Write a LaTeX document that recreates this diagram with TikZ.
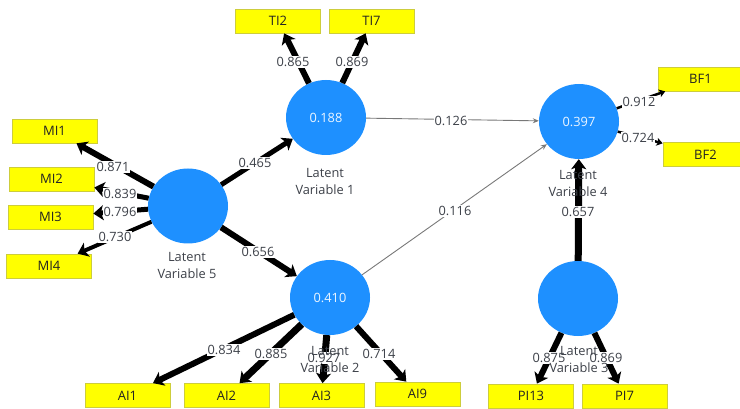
\documentclass[tikz,border=0pt]{standalone}
\usepackage{fontspec}
\setmainfont{Open Sans}
\usetikzlibrary{shapes.geometric,arrows.meta}
\definecolor{lvblue}{RGB}{30,144,255}
\definecolor{boxfill}{RGB}{255,255,0}
\definecolor{boxedge}{RGB}{205,205,60}
\definecolor{txtdark}{RGB}{35,35,35}
\definecolor{txtgray}{RGB}{60,64,72}
\definecolor{pathgray}{RGB}{120,120,120}
\tikzset{
  lv/.style={ellipse, fill=lvblue, minimum width=80pt, minimum height=75pt,
    inner sep=0pt, text=white!92!lvblue},
  ind/.style={rectangle, fill=boxfill, draw=boxedge, line width=0.7pt,
    minimum width=85pt, minimum height=24pt, inner sep=0pt, text=txtdark,
    font=\fontsize{13}{15}\selectfont},
  wt/.style={fill=white, inner sep=1pt, text=txtgray},
  lvname/.style={align=center, text=txtgray, inner sep=0pt},
  load/.style={draw=black, line width=#1,
    -{Stealth[length=10pt, width=15pt, inset=2.5pt]}},
  loadsmall/.style={draw=black, line width=2.5pt,
    -{Stealth[length=6pt, width=8pt, inset=1.5pt]}},
  inner/.style={draw=pathgray, line width=0.9pt,
    -{Stealth[length=6pt, width=5pt]}}
}
\begin{document}
\begin{tikzpicture}[x=1pt, y=-1pt, font=\fontsize{12.8}{17}\selectfont]
\useasboundingbox (0,0) rectangle (740,409);

% latent variables
\node[lv] (lv1) at (326,117.5) {0.188};
\node[lv] (lv2) at (330,297.5) {0.410};
\node[lv] (lv3) at (578,298.5) {};
\node[lv] (lv4) at (579,121.5) {0.397};
\node[lv] (lv5) at (188,206) {};

% indicators
\node[ind] (ti2) at (278,21) {TI2};
\node[ind] (ti7) at (371.5,21) {TI7};
\node[ind] (mi1) at (54.5,131) {MI1};
\node[ind] (mi2) at (51.5,179) {MI2};
\node[ind] (mi3) at (50.5,217) {MI3};
\node[ind] (mi4) at (49,266) {MI4};
\node[ind] (ai1) at (127.5,395.5) {AI1};
\node[ind] (ai2) at (226.5,395.5) {AI2};
\node[ind] (ai3) at (321.5,395.5) {AI3};
\node[ind] (ai9) at (417.5,394) {AI9};
\node[ind] (pi13) at (531,396) {PI13};
\node[ind] (pi7) at (624.5,396) {PI7};
\node[ind] (bf1) at (700.5,79) {BF1};
\node[ind] (bf2) at (705.5,154.5) {BF2};

% structural paths
\draw[inner] (lv1) -- (lv4);
\draw[inner] (lv2) -- (lv4);
\draw[load=5pt] (lv5) -- (lv1);
\draw[load=6pt] (lv5) -- (lv2);
\draw[load=7pt] (lv3) -- (lv4);

% outer loadings
\draw[load=6pt] (lv1) -- (ti2);
\draw[load=6pt] (lv1) -- (ti7);
\draw[load=6pt] (lv5) -- (mi1);
\draw[load=5pt] (lv5) -- (mi2);
\draw[load=5pt] (lv5) -- (mi3);
\draw[load=4pt] (lv5) -- (mi4);
\draw[load=6pt] (lv2) -- (ai1);
\draw[load=7pt] (lv2) -- (ai2);
\draw[load=7pt] (lv2) -- (ai3);
\draw[load=6pt] (lv2) -- (ai9);
\draw[load=6pt] (lv3) -- (pi13);
\draw[load=6pt] (lv3) -- (pi7);
\draw[loadsmall] (lv4) -- (bf1);
\draw[loadsmall] (lv4) -- (bf2);

% coefficients
\node[wt] (w126) at (451,121) {0.126};
\node[wt] (w116) at (455,211) {0.116};
\node[wt] (w465) at (255,163) {0.465};
\node[wt] (w656) at (258,252) {0.656};
\node[wt] (w657) at (578,212) {0.657};
\node[wt] (w865) at (293,62) {0.865};
\node[wt] (w869a) at (352,62) {0.869};
\node[wt] (w871) at (113,167) {0.871};
\node[wt] (w839) at (120,194) {0.839};
\node[wt] (w796) at (120,212) {0.796};
\node[wt] (w730) at (115,237) {0.730};
\node[wt] (w834) at (224,350) {0.834};
\node[wt] (w885) at (271,354) {0.885};
\node[wt] (w927) at (324,358) {0.927};
\node[wt] (w714) at (379,354) {0.714};
\node[wt] (w875) at (549,358) {0.875};
\node[wt] (w869b) at (606,358) {0.869};
\node[wt] (w912) at (639,102) {0.912};
\node[wt] (w724) at (638,138) {0.724};

% latent variable names
\node[lvname] (n1) at (325,181) {Latent\\Variable 1};
\node[lvname] (n2) at (330,359) {Latent\\Variable 2};
\node[lvname] (n3) at (579,359.5) {Latent\\Variable 3};
\node[lvname] (n4) at (578,183) {Latent\\Variable 4};
\node[lvname] (n5) at (187,265.5) {Latent\\Variable 5};
\end{tikzpicture}
\end{document}
